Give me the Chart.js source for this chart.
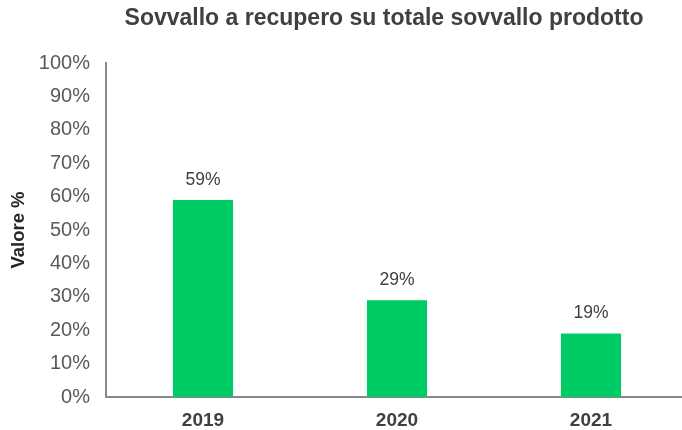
<!DOCTYPE html>
<html>
<head>
<meta charset="utf-8">
<script src="https://cdn.jsdelivr.net/npm/chart.js@4.4.0/dist/chart.umd.min.js"></script>
<style>
  html, body { margin: 0; padding: 0; background: #fff; overflow: hidden; }
  /* l'asse x prosegue oltre il bordo destro */
  #wrap { width: 688px; height: 430px; }
</style>
</head>
<body>
<div id="wrap"><canvas id="barre"></canvas></div>
<script>
// DATI
const anni = ["2019", "2020", "2021"];
const valori = [59, 29, 19];
const tickValori = [0, 10, 20, 30, 40, 50, 60, 70, 80, 90, 100];
const titolo = "Sovvallo a recupero su totale sovvallo prodotto";

const FONT = "'Liberation Sans', Arial, sans-serif";

// titolo disegnato a mano (spostato verso destra)
const titoloGrafico = {
  id: "titoloGrafico",
  afterDraw(chart) {
    const ctx = chart.ctx;
    ctx.save();
    ctx.font = "bold 23px " + FONT;
    ctx.fillStyle = "#404040";
    ctx.textAlign = "center";
    ctx.textBaseline = "middle";
    ctx.fillText(titolo, 384, 18.5);
    ctx.restore();
  },
};

// etichette sopra le barre
const etichette = {
  id: "etichette",
  afterDatasetsDraw(chart) {
    const ctx = chart.ctx;
    const meta = chart.getDatasetMeta(0);
    ctx.save();
    ctx.font = "17.5px " + FONT;
    ctx.fillStyle = "#404040";
    ctx.textAlign = "center";
    ctx.textBaseline = "middle";
    meta.data.forEach((bar, i) => {
      ctx.fillText(valori[i] + "%", bar.x, bar.y - 20);
    });
    ctx.restore();
  },
};

const data = {
  labels: anni,
  datasets: [
    {
      data: valori,
      backgroundColor: "#00CC66",
      barPercentage: 0.62,
      categoryPercentage: 0.5,
    },
  ],
};

const config = {
  type: "bar",
  data: data,
  plugins: [etichette, titoloGrafico],
  options: {
    responsive: true,
    maintainAspectRatio: false,
    animation: false,
    layout: { padding: { top: 63, left: 0, right: 0, bottom: 0 } },
    plugins: {
      legend: { display: false },
      tooltip: { enabled: false },
      title: { display: false },
    },
    scales: {
      x: {
        grid: { display: false, drawTicks: false },
        border: { display: true, color: "#898989", width: 2 },
        ticks: {
          color: "#404040",
          padding: 12,
          font: { family: FONT, size: 19, weight: "bold" },
        },
        afterFit(scale) {
          scale.height = 33;
        },
      },
      y: {
        min: 0,
        max: 100,
        afterBuildTicks(scale) {
          scale.ticks = tickValori.map((v) => ({ value: v }));
        },
        grid: { display: false, drawTicks: false },
        border: { display: true, color: "#898989", width: 2 },
        ticks: {
          color: "#595959",
          padding: 16,
          font: { family: FONT, size: 20 },
          callback: (v) => v + "%",
        },
        title: {
          display: true,
          text: "Valore %",
          color: "#262626",
          padding: { top: 8, bottom: 0 },
          font: { family: FONT, size: 18.5, weight: "bold" },
        },
        afterFit(scale) {
          scale.width = 106;
        },
      },
    },
  },
};

new Chart(document.getElementById("barre"), config);
</script>
</body>
</html>
